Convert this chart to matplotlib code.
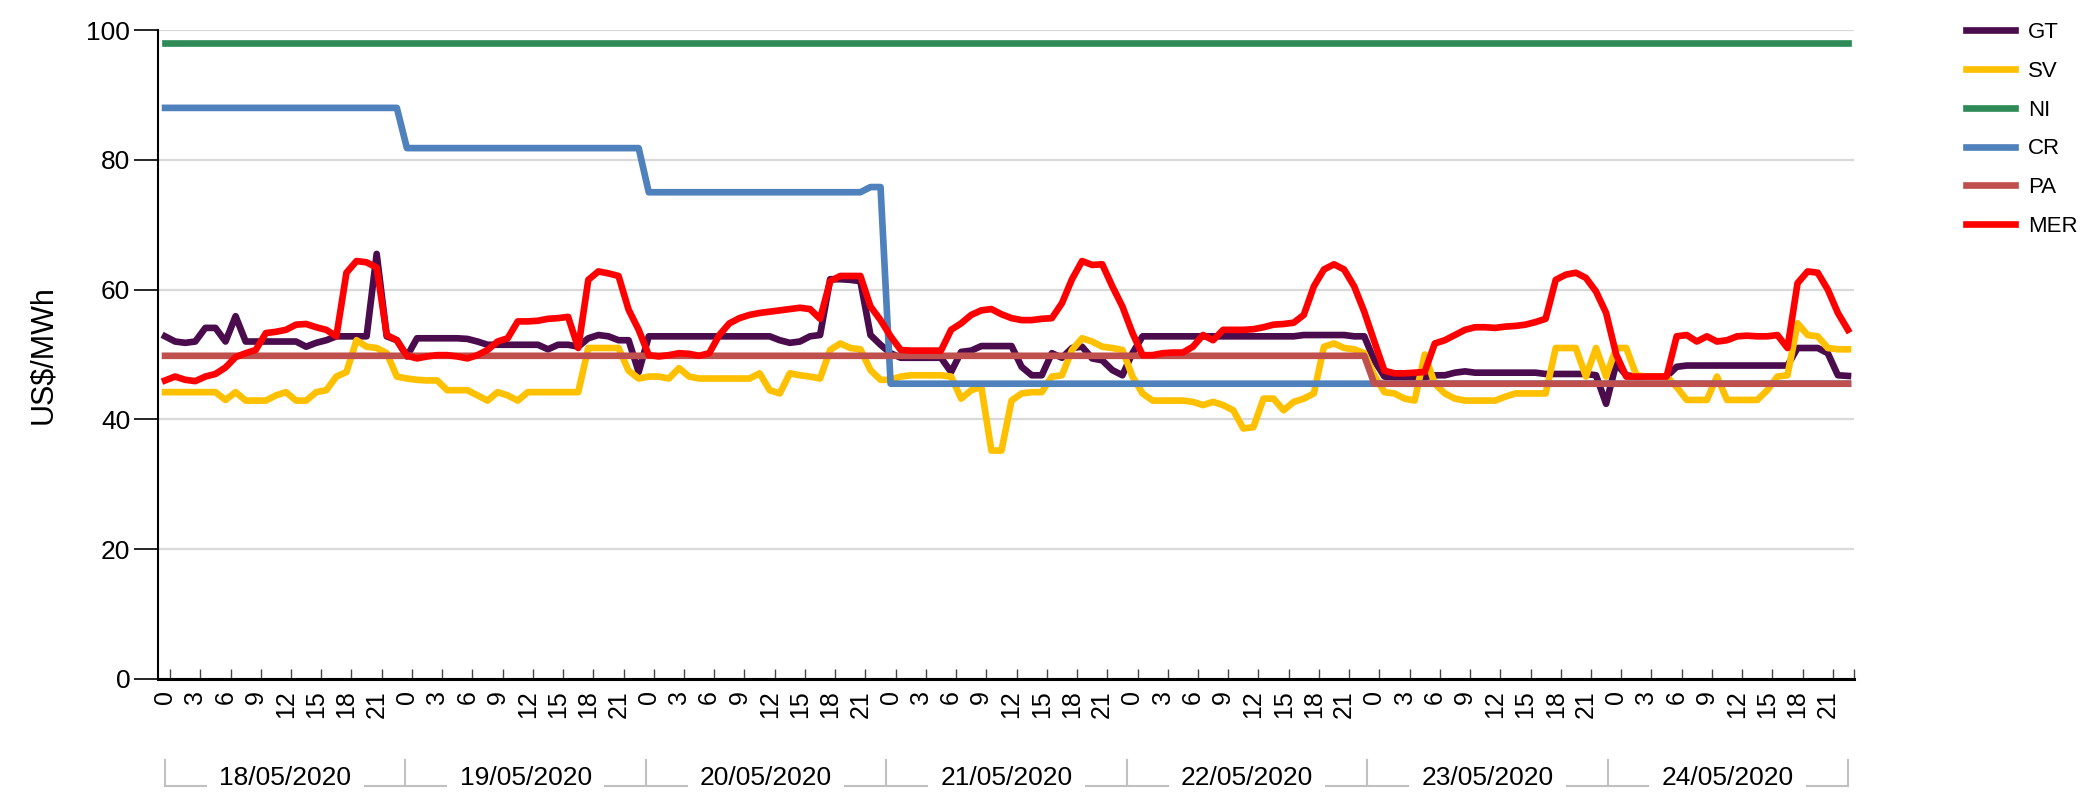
import matplotlib.pyplot as plt
from matplotlib.lines import Line2D
import matplotlib.transforms as mtransforms
import numpy as np

plt.rcParams['font.family'] = ['Liberation Sans', 'DejaVu Sans']

# hourly prices, 18/05/2020 .. 24/05/2020 (24 values per day)
days = ['18/05/2020', '19/05/2020', '20/05/2020', '21/05/2020',
        '22/05/2020', '23/05/2020', '24/05/2020']
hours = list(range(24))

gt = [52.8, 52.0, 51.8, 52.0, 54.1, 54.1, 52.0, 55.9, 52.0, 52.0, 52.0, 52.0, 52.0, 52.0, 51.2, 51.8, 52.2, 52.8, 52.8, 52.8, 52.8, 65.5, 52.8, 52.2,
      49.7, 52.5, 52.5, 52.5, 52.5, 52.5, 52.4, 52.0, 51.5, 51.5, 51.5, 51.5, 51.5, 51.5, 50.8, 51.5, 51.5, 51.2, 52.5, 53.0, 52.8, 52.2, 52.2, 47.3,
      52.8, 52.8, 52.8, 52.8, 52.8, 52.8, 52.8, 52.8, 52.8, 52.8, 52.8, 52.8, 52.8, 52.2, 51.8, 52.0, 52.8, 53.0, 61.6, 61.6, 61.5, 61.3, 53.0, 51.5,
      50.2, 49.5, 49.5, 49.5, 49.5, 49.5, 47.3, 50.4, 50.6, 51.3, 51.3, 51.3, 51.3, 48.1, 46.8, 46.8, 50.2, 49.5, 51.0, 51.2, 49.4, 49.1, 47.6, 46.8,
      50.2, 52.8, 52.8, 52.8, 52.8, 52.8, 52.8, 52.8, 52.8, 52.8, 52.8, 52.8, 52.8, 52.8, 52.8, 52.8, 52.8, 53.0, 53.0, 53.0, 53.0, 53.0, 52.8, 52.8,
      49.1, 46.6, 46.5, 46.5, 46.5, 46.5, 46.8, 46.8, 47.2, 47.4, 47.2, 47.2, 47.2, 47.2, 47.2, 47.2, 47.2, 47.0, 47.0, 47.0, 47.0, 47.0, 46.8, 42.4,
      48.6, 46.8, 46.6, 46.6, 46.6, 46.6, 48.1, 48.3, 48.3, 48.3, 48.3, 48.3, 48.3, 48.3, 48.3, 48.3, 48.3, 48.3, 51.0, 51.0, 51.0, 50.2, 46.8, 46.7]

sv = [44.2, 44.2, 44.2, 44.2, 44.2, 44.2, 43.0, 44.2, 42.9, 42.9, 42.9, 43.7, 44.2, 42.9, 42.9, 44.2, 44.5, 46.6, 47.3, 52.2, 51.2, 51.0, 50.2, 46.6,
      46.3, 46.1, 46.0, 46.0, 44.5, 44.5, 44.5, 43.7, 42.9, 44.2, 43.7, 42.9, 44.2, 44.2, 44.2, 44.2, 44.2, 44.2, 51.0, 51.0, 51.0, 51.0, 47.5, 46.3,
      46.6, 46.6, 46.3, 47.9, 46.6, 46.3, 46.3, 46.3, 46.3, 46.3, 46.3, 47.1, 44.5, 44.0, 47.1, 46.8, 46.6, 46.3, 50.7, 51.7, 51.0, 50.8, 47.6, 46.1,
      46.1, 46.6, 46.8, 46.8, 46.8, 46.8, 46.6, 43.2, 44.5, 45.0, 35.2, 35.2, 42.9, 44.0, 44.2, 44.2, 46.6, 46.8, 50.7, 52.5, 52.0, 51.2, 51.0, 50.7,
      46.6, 44.0, 42.9, 42.9, 42.9, 42.9, 42.7, 42.2, 42.7, 42.2, 41.4, 38.6, 38.8, 43.2, 43.2, 41.4, 42.7, 43.2, 44.0, 51.2, 51.7, 51.0, 50.8, 50.2,
      46.8, 44.2, 44.0, 43.2, 42.9, 50.0, 45.5, 44.0, 43.2, 42.9, 42.9, 42.9, 42.9, 43.5, 44.0, 44.0, 44.0, 44.0, 51.0, 51.0, 51.0, 46.6, 51.0, 46.6,
      51.0, 51.0, 46.8, 46.6, 46.6, 46.6, 45.0, 43.0, 43.0, 43.0, 46.6, 43.0, 43.0, 43.0, 43.0, 44.5, 46.6, 46.8, 54.8, 53.0, 52.8, 51.0, 50.8, 50.8]

ni = [98.0] * 168

cr = [88.0] * 24 + [81.8] * 24 + [75.0] * 22 + [75.8] * 2 + [45.5] * 96

pa = [49.8] * 120 + [45.5] * 48

mer = [46.0, 46.6, 46.1, 45.9, 46.6, 47.0, 48.0, 49.6, 50.2, 50.7, 53.3, 53.5, 53.8, 54.6, 54.7, 54.2, 53.8, 52.8, 62.6, 64.4, 64.2, 63.4, 53.0, 52.2,
       49.8, 49.4, 49.7, 49.9, 49.9, 49.7, 49.4, 49.9, 50.7, 52.0, 52.5, 55.1, 55.1, 55.2, 55.5, 55.6, 55.8, 51.0, 61.5, 62.8, 62.5, 62.1, 56.9, 53.8,
       49.9, 49.7, 49.9, 50.2, 50.1, 49.8, 50.2, 53.0, 54.8, 55.6, 56.1, 56.4, 56.6, 56.8, 57.0, 57.2, 57.0, 55.5, 61.3, 62.1, 62.1, 62.1, 57.4, 55.3,
       52.8, 50.7, 50.6, 50.6, 50.6, 50.6, 53.8, 54.8, 56.1, 56.8, 57.0, 56.2, 55.6, 55.3, 55.3, 55.5, 55.6, 57.9, 61.6, 64.4, 63.8, 63.9, 60.5, 57.4,
       53.3, 49.9, 49.9, 50.2, 50.3, 50.3, 51.2, 53.0, 52.2, 53.8, 53.8, 53.8, 53.9, 54.2, 54.6, 54.7, 54.9, 56.1, 60.5, 63.1, 63.9, 63.1, 60.5, 56.6,
       52.0, 47.5, 47.1, 47.1, 47.2, 47.3, 51.7, 52.2, 53.0, 53.8, 54.2, 54.2, 54.1, 54.3, 54.4, 54.6, 55.0, 55.5, 61.5, 62.3, 62.6, 61.8, 59.7, 56.4,
       50.0, 46.6, 46.6, 46.6, 46.6, 46.6, 52.8, 53.0, 52.0, 52.8, 52.0, 52.2, 52.8, 52.9, 52.8, 52.8, 53.0, 51.0, 61.0, 62.8, 62.6, 60.0, 56.4, 53.8]

series = [('GT', gt, '#4b0c4e'), ('SV', sv, '#ffc000'), ('NI', ni, '#2e8b57'),
          ('CR', cr, '#4f81bd'), ('PA', pa, '#c0504d'), ('MER', mer, '#ff0000')]


def main():
    fig = plt.figure(figsize=(20.94, 7.96), dpi=100)
    ax = fig.add_axes([158 / 2094, 1 - 679 / 796, 1696 / 2094, 649 / 796])

    x = list(range(len(days) * 24))
    for name, vals, col in series:
        ax.plot(x, vals, color=col, lw=4.8, label=name, solid_joinstyle='round')

    ax.set_xlim(-0.7, 167.6)
    ax.set_ylim(0, 100)
    ax.set_yticks(range(0, 101, 20))
    ax.grid(axis='y', color='#d9d9d9', lw=1.6)
    ax.set_axisbelow(True)
    ax.tick_params(axis='y', length=17, width=1.2, labelsize=19, pad=3)
    ax.set_ylabel('US$/MWh', fontsize=22, labelpad=20)

    # hour labels every 3 hours, ticks between categories
    pos = [i for i in x if i % 3 == 0]
    ax.set_xticks(pos)
    ax.set_xticklabels([str(hours[i % 24]) for i in pos], rotation=90, fontsize=18)
    ax.tick_params(axis='x', length=0, pad=8)
    ax.set_xticks([p + 0.5 for p in pos] + [167.6], minor=True)
    ax.tick_params(axis='x', which='minor', direction='in', length=7, width=1.0, color='#444444')

    for s in ['top', 'right']:
        ax.spines[s].set_visible(False)
    ax.spines['left'].set_linewidth(1.5)
    ax.spines['bottom'].set_linewidth(2.2)

    # day groups with brackets under the hour labels
    tr = mtransforms.blended_transform_factory(ax.transData, fig.transFigure)
    y_top = 1 - 760 / 796
    y_bot = 1 - 786 / 796
    edges = np.linspace(0, 167, len(days) + 1)
    step = edges[1] - edges[0]
    for d, lab in enumerate(days):
        x0, x1 = edges[d], edges[d + 1]
        ax.add_line(Line2D([x0, x0], [y_top, y_bot], transform=tr, color='#c0c0c0', lw=1.5, clip_on=False))
        ax.add_line(Line2D([x0, x0 + step * 0.17], [y_bot, y_bot], transform=tr, color='#c0c0c0', lw=1.5, clip_on=False))
        ax.add_line(Line2D([x1 - step * 0.17, x1], [y_bot, y_bot], transform=tr, color='#c0c0c0', lw=1.5, clip_on=False))
        ax.text((x0 + x1) / 2, 1 - 778 / 796, lab, transform=tr, ha='center', va='center', fontsize=19)
    ax.add_line(Line2D([edges[-1]] * 2, [y_top, y_bot], transform=tr, color='#c0c0c0', lw=1.5, clip_on=False))

    fig.legend(loc='upper left', bbox_to_anchor=(1966 / 2094, 1 - 22 / 796), frameon=False,
               fontsize=16, handlelength=2.2, handletextpad=0.6, labelspacing=0.8,
               borderpad=0, borderaxespad=0)

    fig.savefig('out.png', dpi=100)


if __name__ == '__main__':
    main()
